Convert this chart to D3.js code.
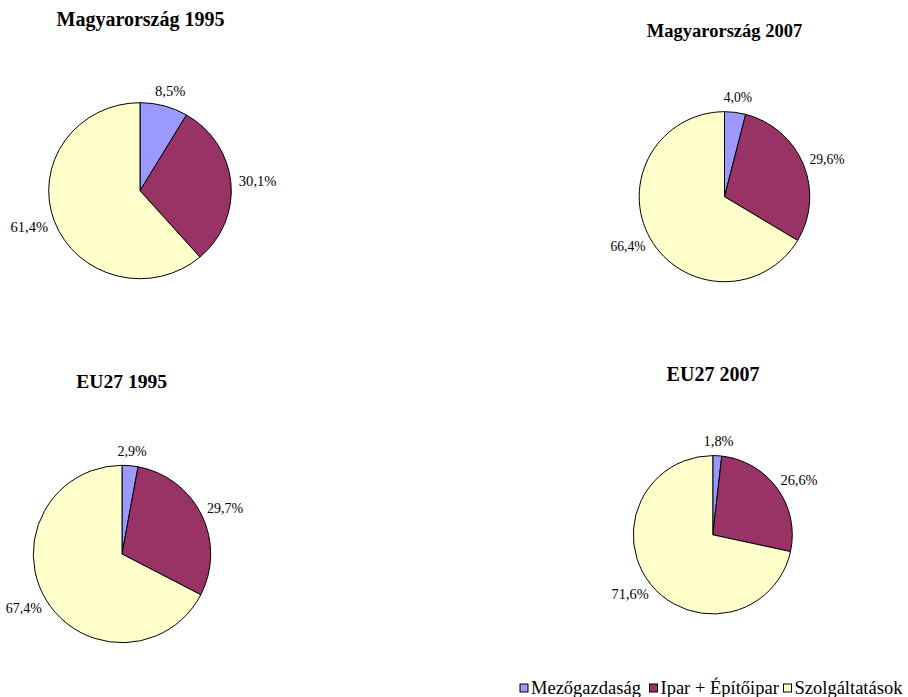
<html>
<head>
<meta charset="utf-8">
<script src="https://cdn.jsdelivr.net/npm/d3@7"></script>
</head>
<body style="margin:0;padding:0;background:#fff">
<svg id="chart" width="908" height="697" style="display:block"></svg>
<script>
// Sector shares of gross value added (%)
const categories = ["Mezőgazdaság", "Ipar + Építőipar", "Szolgáltatások"];
const colors = ["#9999FF", "#993366", "#FFFFCC"];
const titles = ["Magyarország 1995", "Magyarország 2007", "EU27 1995", "EU27 2007"];
const hu1995 = [8.5, 30.1, 61.4];
const hu2007 = [4.0, 29.6, 66.4];
const eu1995 = [2.9, 29.7, 67.4];
const eu2007 = [1.8, 26.6, 71.6];

const serif = "Liberation Serif";

// Layout of the four pies on the page
const layout = [
  { values: hu1995, cx: 140,   cy: 190.7, rx: 91.3, ry: 88,   tx: 140.5, ty: 26,    tSize: 20,   lSize: 14.6 },
  { values: hu2007, cx: 724.5, cy: 196.7, rx: 85.3, ry: 85,   tx: 724.5, ty: 37.3,  tSize: 18.5, lSize: 13.6 },
  { values: eu1995, cx: 122,   cy: 554,   rx: 88.7, ry: 88.7, tx: 121.7, ty: 388.3, tSize: 19.6, lSize: 14 },
  { values: eu2007, cx: 712.8, cy: 534.8, rx: 79.5, ry: 79.2, tx: 713,   ty: 380.7, tSize: 20,   lSize: 14.4 }
];

// Legend placement
const legendX = [520, 649.5, 783.5];
const legendY = 684;
const legendSize = 18.5;
const box = 8;

// Advance widths (em) of the serif face, for the characters used in value labels
const advance = { ",": 0.25, "%": 0.833 };
const textWidth = (s, size) =>
  Array.from(s).reduce((w, ch) => w + (advance[ch] ?? 0.5), 0) * size;

const svg = d3.select("#chart");
const pie = d3.pie().sort(null).value(d => d);
const fmt = v => v.toFixed(1).replace(".", ",") + "%";

// Pies with their value labels
layout.forEach(c => {
  const arcs = pie(c.values);
  const arc = d3.arc().innerRadius(0).outerRadius(c.ry);

  svg.append("g")
    .attr("transform", `translate(${c.cx},${c.cy}) scale(${c.rx / c.ry},1)`)
    .selectAll("path")
    .data(arcs)
    .join("path")
    .attr("d", arc)
    .attr("fill", (d, j) => colors[j])
    .attr("stroke", "#000")
    .attr("stroke-width", 1)
    .attr("vector-effect", "non-scaling-stroke");

  // Labels sit just outside the rim, pushed away along the mid-angle
  arcs.forEach(d => {
    const a = (d.startAngle + d.endAngle) / 2;
    const label = fmt(d.data);
    const w = textWidth(label, c.lSize);
    svg.append("text")
      .attr("x", c.cx + Math.sin(a) * (c.rx + 8) + Math.sin(a) * w / 2)
      .attr("y", c.cy - Math.cos(a) * (c.ry + 8) - Math.cos(a) * c.lSize / 2 + 0.35 * c.lSize)
      .attr("text-anchor", "middle")
      .attr("font-family", serif)
      .attr("font-size", c.lSize)
      .style("font-family", serif)
      .style("font-weight", "normal")
      .text(label);
  });
});

// Legend along the bottom edge
categories.forEach((name, i) => {
  svg.append("rect")
    .attr("x", legendX[i]).attr("y", legendY)
    .attr("width", box).attr("height", box)
    .attr("fill", colors[i])
    .attr("stroke", "#000")
    .attr("stroke-width", 1);
  svg.append("text")
    .attr("x", legendX[i] + box + 3)
    .attr("y", legendY + box + 2)
    .attr("font-family", serif)
    .attr("font-size", legendSize)
    .style("font-family", serif)
    .style("font-weight", "normal")
    .text(name);
});

// Chart titles
layout.forEach((c, i) => {
  svg.append("text")
    .attr("x", c.tx)
    .attr("y", c.ty)
    .attr("text-anchor", "middle")
    .attr("font-family", serif)
    .attr("font-weight", "bold")
    .attr("font-size", c.tSize)
    .style("font-family", serif)
    .text(titles[i]);
});
</script>
</body>
</html>
